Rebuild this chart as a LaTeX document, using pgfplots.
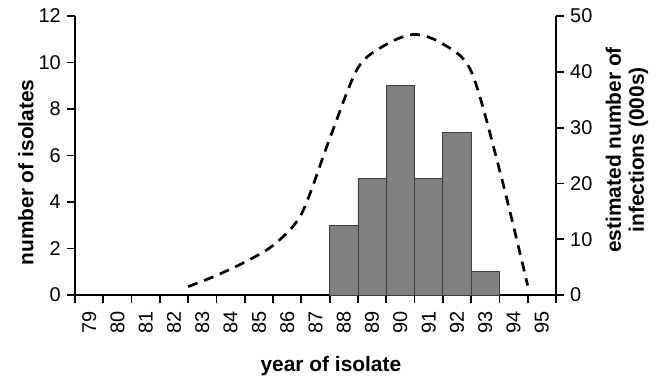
\documentclass[border=0pt]{standalone}
\usepackage{pgfplots}
\pgfplotsset{compat=1.18}
\usepackage{fontspec}
\setmainfont{Liberation Sans}
\definecolor{barfill}{RGB}{128,128,128}
\definecolor{baredge}{RGB}{60,60,60}
\begin{document}
\begin{tikzpicture}
\begin{axis}[
  scale only axis, width=481bp, height=279bp,
  xmin=0, xmax=17, ymin=0, ymax=12,
  axis x line*=bottom, axis y line*=left,
  axis line style={line width=1.8bp},
  tick style={line width=1.8bp, black},
  ytick style={line width=1.8bp, black},
  tick align=outside, major tick length=8bp,
  xtick={0,...,17}, xticklabels={},
  extra x ticks={0.5,1.5,2.5,3.5,4.5,5.5,6.5,7.5,8.5,9.5,10.5,11.5,12.5,13.5,14.5,15.5,16.5},
  extra x tick labels={79,80,81,82,83,84,85,86,87,88,89,90,91,92,93,94,95},
  extra x tick style={major tick length=0pt,
    tick label style={rotate=90, anchor=east, inner sep=0pt}},
  xticklabel shift=16bp,
  ytick={0,2,...,12},
  yticklabel style={inner sep=0pt, anchor=east},
  yticklabel shift=6bp,
  /pgf/number format/assume math mode=true,
  ticklabel style={font=\fontsize{20}{22}\selectfont},
  xlabel={\textbf{year of isolate}},
  xlabel style={at={(axis description cs:0.532,-0.255)}, anchor=center, font=\fontsize{21}{23}\selectfont},
  ylabel={\textbf{number of isolates}},
  ylabel style={at={(axis description cs:-0.102,0.439)}, anchor=center, font=\fontsize{21}{23}\selectfont},
  clip=false,
]
\addplot[ybar interval, fill=barfill, draw=baredge, line width=0.8bp] coordinates {
  (9,3) (10,5) (11,9) (12,5) (13,7) (14,1) (15,1)
};
\end{axis}
\begin{axis}[
  scale only axis, width=481bp, height=279bp,
  xmin=0, xmax=17, ymin=0, ymax=50,
  axis x line=none, axis y line*=right,
  axis line style={line width=1.8bp},
  tick style={line width=1.8bp, black},
  ytick style={line width=1.8bp, black},
  tick align=outside, major tick length=8bp,
  ytick={0,10,...,50},
  yticklabel style={inner sep=0pt, anchor=west},
  yticklabel shift=6bp,
  /pgf/number format/assume math mode=true,
  ticklabel style={font=\fontsize{20}{22}\selectfont},
  ylabel={\textbf{estimated number of}\\\textbf{infections (000s)}},
  ylabel style={at={(axis description cs:1.1476,0.52)}, anchor=center, align=center, font=\fontsize{21}{23}\selectfont},
  clip=false,
]
\addplot[smooth, black, line width=2.7bp, dash pattern=on 10bp off 7bp] coordinates {
  (4,1.5) (5,3.5) (6,5.9) (7,8.9) (8,14.5) (9,28) (10,40.7) (11,44.9) (12,46.7) (13,45.0) (14,40.1) (15,22.5) (16,1.7)
};
\end{axis}
\path[use as bounding box] (-75bp,-84bp) rectangle (582bp,295bp);
\end{tikzpicture}
\end{document}
